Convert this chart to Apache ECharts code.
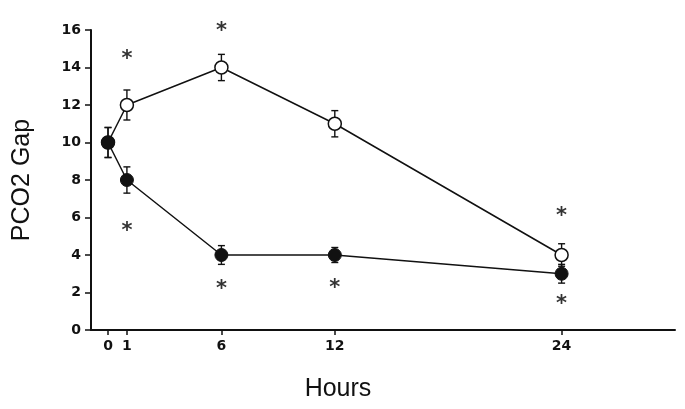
<!DOCTYPE html>
<html><head><meta charset="utf-8">
<script src="https://cdn.jsdelivr.net/npm/echarts@6/dist/echarts.min.js"></script>
<style>html,body{margin:0;padding:0;background:#fff}#c{width:685px;height:409px}</style>
</head><body><div id="c"></div>
<script>
const hours = [0, 1, 6, 12, 24];
const openVals = [10, 12, 14, 11, 4];
const openErr = [0.8, 0.8, 0.7, 0.7, 0.6];
const filledVals = [10, 8, 4, 4, 3];
const filledErr = [0.8, 0.7, 0.5, 0.4, 0.5];
const starX = [1, 1, 6, 6, 12, 24, 24];
const starY = [14.7, 5.5, 16.2, 2.4, 2.5, 6.3, 1.6];
const yTicks = [0, 2, 4, 6, 8, 10, 12, 14, 16];

const chart = echarts.init(document.getElementById('c'));
function pairs(xs, ys){ return xs.map((x,i)=>[x, ys[i]]); }
function errData(vals, errs){ return hours.map((h,i)=>[h, vals[i]-errs[i], vals[i]+errs[i]]); }
function errSeries(vals, errs){
  return {
    type:'custom', z:1, clip:false,
    data: errData(vals, errs),
    renderItem:function(params, api){
      const x = api.value(0);
      const lo = api.coord([x, api.value(1)]);
      const hi = api.coord([x, api.value(2)]);
      const w = 3.5;
      const st = {stroke:'#111', lineWidth:1.4};
      return {type:'group', children:[
        {type:'line', shape:{x1:lo[0],y1:lo[1],x2:hi[0],y2:hi[1]}, style:st},
        {type:'line', shape:{x1:lo[0]-w,y1:lo[1],x2:lo[0]+w,y2:lo[1]}, style:st},
        {type:'line', shape:{x1:hi[0]-w,y1:hi[1],x2:hi[0]+w,y2:hi[1]}, style:st}
      ]};
    }
  };
}
chart.setOption({
  animation:false,
  grid:{left:91, right:10, top:30, bottom:79, containLabel:false},
  graphic:[{type:'text', x:338, y:389,
    style:{text:'Hours', textAlign:'center', textVerticalAlign:'middle',
      font:'25px "Liberation Sans", Arial, sans-serif', fill:'#111'}}],
  xAxis:{
    type:'value', min:-0.9, max:30,
    axisLine:{onZero:false, lineStyle:{color:'#111', width:2}},
    axisTick:{customValues:hours, length:5, lineStyle:{color:'#111', width:1.5}},
    axisLabel:{customValues:hours, color:'#111', fontFamily:'DejaVu Sans', fontWeight:'bold', fontSize:14, margin:9},
    splitLine:{show:false}
  },
  yAxis:{
    type:'value', min:0, max:16, interval:2,
    name:'PCO2 Gap', nameLocation:'middle', nameGap:56, nameRotate:90,
    nameTextStyle:{fontFamily:'"Liberation Sans", Arial', fontSize:25, color:'#111'},
    axisLine:{show:true, onZero:false, lineStyle:{color:'#111', width:2}},
    axisTick:{show:true, length:6, lineStyle:{color:'#111', width:1.5}},
    axisLabel:{color:'#111', fontFamily:'DejaVu Sans', fontWeight:'bold', fontSize:14, margin:10,
      formatter:function(v){ return yTicks.indexOf(v)>=0 ? String(v) : ''; }},
    splitLine:{show:false}
  },
  series:[
    errSeries(openVals, openErr),
    errSeries(filledVals, filledErr),
    {type:'line', data:pairs(hours, openVals), z:3, symbol:'circle', symbolSize:13,
      lineStyle:{color:'#111', width:1.5},
      itemStyle:{color:'#fff', borderColor:'#111', borderWidth:1.5}},
    {type:'line', data:pairs(hours, filledVals), z:3, symbol:'circle', symbolSize:13,
      lineStyle:{color:'#111', width:1.5},
      itemStyle:{color:'#111', borderColor:'#111', borderWidth:1}},
    {type:'scatter', data:pairs(starX, starY), symbolSize:0, z:4, clip:false,
      itemStyle:{color:'#111'},
      label:{show:true, position:'inside', formatter:'*', fontFamily:'DejaVu Sans', fontWeight:'bold', fontSize:21,
        color:'#000', textBorderWidth:0, offset:[0,5]}}
  ]
});
</script></body></html>
